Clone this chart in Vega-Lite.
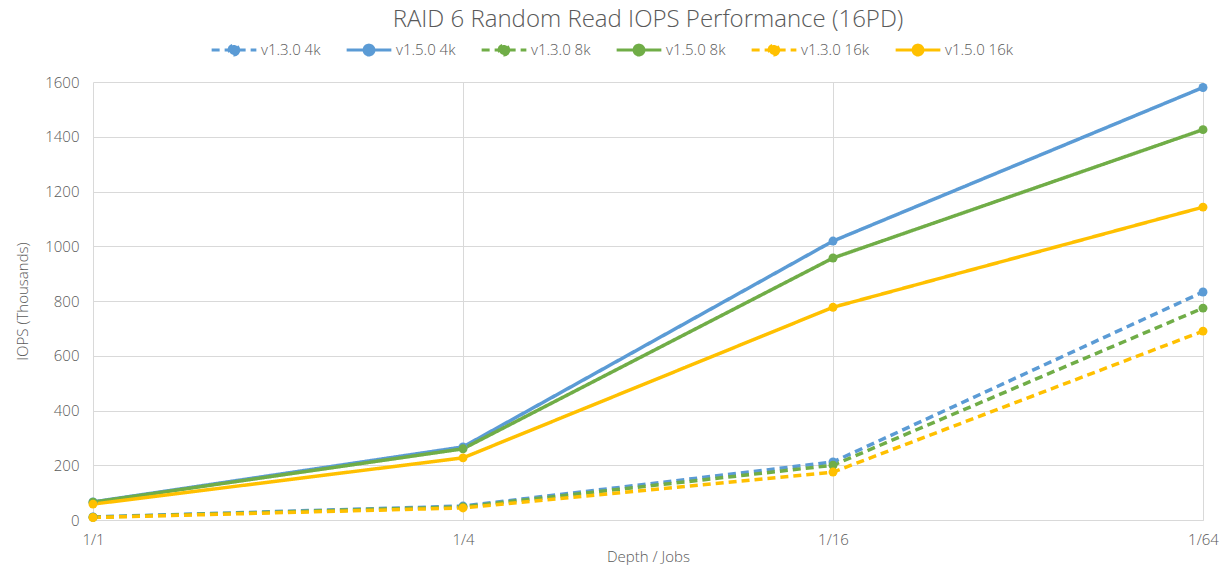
{
  "$schema": "https://vega.github.io/schema/vega-lite/v6.json",
  "width": 1110,
  "height": 438,
  "autosize": {"type": "none"},
  "padding": {"left": 93, "top": 82, "right": 24, "bottom": 45},
  "background": "white",
  "title": {"text": "RAID 6 Random Read IOPS Performance (16PD)", "fontSize": 24, "font": "Open Sans", "fontWeight": 300, "color": "#595959", "offset": -6},
  "config": {
    "font": "Open Sans",
    "view": {"stroke": null},
    "axis": {"labelColor": "#595959", "titleColor": "#595959", "labelFontSize": 15, "titleFontSize": 15, "labelFontWeight": 300, "titleFontWeight": 300, "gridColor": "#d9d9d9", "domainColor": "#d9d9d9"},
    "legend": {"labelColor": "#595959", "labelFontSize": 15, "labelFontWeight": 300}
  },
  "data": {"values": [
    {"depth": "1/1", "series": "v1.3.0 4k", "iops": 11},
    {"depth": "1/4", "series": "v1.3.0 4k", "iops": 51},
    {"depth": "1/16", "series": "v1.3.0 4k", "iops": 212},
    {"depth": "1/64", "series": "v1.3.0 4k", "iops": 833},
    {"depth": "1/1", "series": "v1.5.0 4k", "iops": 66},
    {"depth": "1/4", "series": "v1.5.0 4k", "iops": 267},
    {"depth": "1/16", "series": "v1.5.0 4k", "iops": 1019},
    {"depth": "1/64", "series": "v1.5.0 4k", "iops": 1580},
    {"depth": "1/1", "series": "v1.3.0 8k", "iops": 10},
    {"depth": "1/4", "series": "v1.3.0 8k", "iops": 48},
    {"depth": "1/16", "series": "v1.3.0 8k", "iops": 200},
    {"depth": "1/64", "series": "v1.3.0 8k", "iops": 774},
    {"depth": "1/1", "series": "v1.5.0 8k", "iops": 65},
    {"depth": "1/4", "series": "v1.5.0 8k", "iops": 260},
    {"depth": "1/16", "series": "v1.5.0 8k", "iops": 957},
    {"depth": "1/64", "series": "v1.5.0 8k", "iops": 1426},
    {"depth": "1/1", "series": "v1.3.0 16k", "iops": 9},
    {"depth": "1/4", "series": "v1.3.0 16k", "iops": 44},
    {"depth": "1/16", "series": "v1.3.0 16k", "iops": 175},
    {"depth": "1/64", "series": "v1.3.0 16k", "iops": 690},
    {"depth": "1/1", "series": "v1.5.0 16k", "iops": 58},
    {"depth": "1/4", "series": "v1.5.0 16k", "iops": 227},
    {"depth": "1/16", "series": "v1.5.0 16k", "iops": 777},
    {"depth": "1/64", "series": "v1.5.0 16k", "iops": 1143}
  ]},
  "encoding": {
    "x": {"field": "depth", "type": "ordinal", "sort": ["1/1", "1/4", "1/16", "1/64"], "scale": {"type": "point", "padding": 0},
      "axis": {"title": "Depth / Jobs", "labelAngle": 0, "grid": true, "ticks": false, "labelPadding": 12, "titlePadding": 2}},
    "y": {"field": "iops", "type": "quantitative", "scale": {"domain": [0, 1600]},
      "axis": {"title": "IOPS (Thousands)", "tickCount": 8, "format": "d", "domain": false, "ticks": false, "labelPadding": 14, "titlePadding": 14}},
    "color": {"field": "series", "type": "nominal",
      "scale": {"domain": ["v1.3.0 4k", "v1.5.0 4k", "v1.3.0 8k", "v1.5.0 8k", "v1.3.0 16k", "v1.5.0 16k"],
                "range": ["#5B9BD5", "#5B9BD5", "#70AD47", "#70AD47", "#FFC000", "#FFC000"]},
      "legend": {"title": null, "orient": "none", "legendX": 117, "legendY": -56, "direction": "horizontal", "symbolType": "M-1,0H1M0.22,0A0.22,0.22 0 1,1 -0.22,0A0.22,0.22 0 1,1 0.22,0", "symbolSize": 2000, "symbolStrokeWidth": 3, "columnPadding": 19, "labelOffset": 3,
        "encode": {"symbols": {"update": {"fill": {"scale": "color", "field": "value"}}}}}},
    "strokeDash": {"field": "series", "type": "nominal",
      "scale": {"domain": ["v1.3.0 4k", "v1.5.0 4k", "v1.3.0 8k", "v1.5.0 8k", "v1.3.0 16k", "v1.5.0 16k"],
                "range": [[8, 5], [1, 0], [8, 5], [1, 0], [8, 5], [1, 0]]}}
  },
  "layer": [
    {"mark": {"type": "line", "strokeWidth": 3.5}},
    {"mark": {"type": "point", "filled": true, "size": 80, "opacity": 1}}
  ]
}
